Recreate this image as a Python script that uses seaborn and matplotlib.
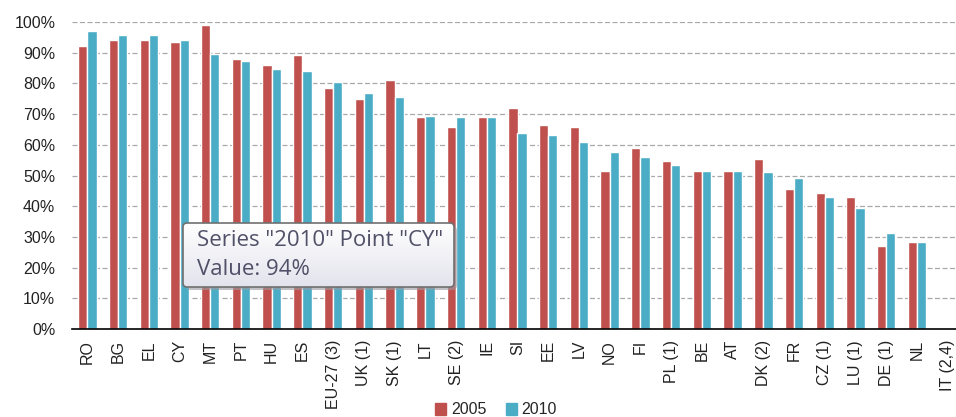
import numpy as np
import pandas as pd
import matplotlib
matplotlib.use("Agg")
import matplotlib.pyplot as plt
import seaborn as sns
from matplotlib.ticker import FuncFormatter
from matplotlib.patches import FancyBboxPatch

countries = ['RO', 'BG', 'EL', 'CY', 'MT', 'PT', 'HU', 'ES', 'EU-27 (3)', 'UK (1)',
             'SK (1)', 'LT', 'SE (2)', 'IE', 'SI', 'EE', 'LV', 'NO', 'FI', 'PL (1)',
             'BE', 'AT', 'DK (2)', 'FR', 'CZ (1)', 'LU (1)', 'DE (1)', 'NL', 'IT (2,4)']
v2005 = [92.2, 94.1, 94.1, 93.4, 99.0, 87.9, 86.1, 89.2, 78.6, 75.0,
         81.2, 68.9, 65.8, 68.9, 71.9, 66.4, 65.8, 51.6, 58.9, 54.7,
         51.6, 51.6, 55.3, 45.5, 44.3, 43.0, 27.1, 28.3, np.nan]
v2010 = [97.2, 95.9, 95.9, 94.0, 89.7, 87.3, 84.8, 84.2, 80.6, 76.9,
         75.6, 69.4, 68.9, 68.9, 64.0, 63.3, 60.9, 57.8, 56.0, 53.5,
         51.6, 51.6, 51.1, 49.2, 43.0, 39.4, 31.4, 28.3, np.nan]
years = ['2005', '2010']
colors = ['#C0504D', '#4BACC6']

df = pd.DataFrame({'country': countries * 2,
                   'year': [years[0]] * len(countries) + [years[1]] * len(countries),
                   'value': v2005 + v2010})

sns.set_style('white')
plt.rcParams['font.family'] = ['Liberation Sans', 'DejaVu Sans']

fig = plt.figure(figsize=(9.56, 4.17), dpi=100)
ax = fig.add_axes([72 / 956, 1 - 329 / 417, 891 / 956, 307 / 417])

sns.barplot(data=df, x='country', y='value', hue='year', order=countries,
            hue_order=years, palette=colors, width=0.6, saturation=1,
            ax=ax, legend=False)

ax.set_xlim(-0.5, len(countries) - 0.5)
ax.set_ylim(0, 100)
ax.set_yticks(range(0, 101, 10))
ax.yaxis.set_major_formatter(FuncFormatter(lambda v, p: f'{v:.0f}%'))
ax.tick_params(axis='y', length=0, pad=12, labelsize=11.5, colors='#222222')
ax.set_xticks(range(len(countries)))
ax.set_xticklabels(countries, rotation=90, fontsize=11.5, color='#222222')
ax.set_xticks(np.arange(-0.5, len(countries), 1), minor=True)
ax.tick_params(axis='x', which='major', length=0, pad=8)
ax.tick_params(axis='x', which='minor', length=4, width=1.2, color='black', direction='out')
ax.set_xlabel('')
ax.set_ylabel('')

for y in range(10, 101, 10):
    ax.axhline(y, color='#A8A8A8', lw=0.9, ls=(0, (4, 2)), zorder=0)

for s in ['left', 'right', 'top']:
    ax.spines[s].set_visible(False)
ax.spines['bottom'].set_color('black')
ax.spines['bottom'].set_linewidth(1.2)

handles = [plt.Rectangle((0, 0), 1, 1, color=c) for c in colors]
fig.legend(handles, years, loc='center', bbox_to_anchor=(496 / 956, 1 - 410 / 417),
           ncol=2, frameon=False, fontsize=11.5, handlelength=0.7, handleheight=0.7,
           handletextpad=0.3, columnspacing=1.2)

# tooltip box (shadow + gradient fill)
bx, by, bw, bh = 183 / 956, 1 - 287 / 417, 271 / 956, 64 / 417
shadow = FancyBboxPatch((bx + 3 / 956, by - 3 / 417), bw, bh,
                        boxstyle='round,pad=0,rounding_size=0.005', mutation_aspect=2.3,
                        transform=fig.transFigure, facecolor='#9A9AA0', edgecolor='none',
                        alpha=0.6, zorder=5)
fig.patches.append(shadow)
tip = fig.add_axes([bx, by, bw, bh], zorder=6)
tip.set_axis_off()
grad = np.linspace(1, 0, 64).reshape(-1, 1)
top_c = np.array([1.0, 1.0, 1.0])
bot_c = np.array([0.89, 0.89, 0.93])
img = (grad[..., None] * top_c + (1 - grad[..., None]) * bot_c)
im = tip.imshow(img, extent=(0, 1, 0, 1), aspect='auto')
box = FancyBboxPatch((0, 0), 1, 1, boxstyle='round,pad=0,rounding_size=0.015',
                     mutation_aspect=4.2, transform=tip.transAxes,
                     facecolor='none', edgecolor='#707070', lw=1.2, clip_on=False)
tip.add_patch(box)
im.set_clip_path(box)
tip.set_xlim(0, 1)
tip.set_ylim(0, 1)
tip.text(14 / 271, 0.5, 'Series "2010" Point "CY"\nValue: 94%', transform=tip.transAxes,
         ha='left', va='center', fontsize=16, color='#505068', family='Open Sans',
         linespacing=1.5)

fig.savefig('out.png', dpi=100)
